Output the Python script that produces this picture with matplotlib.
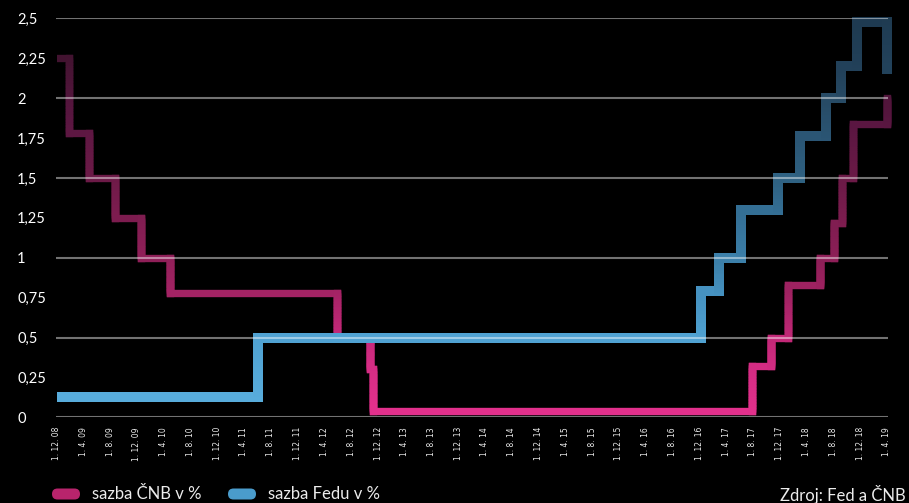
import numpy as np
import matplotlib
matplotlib.use('Agg')
import matplotlib.pyplot as plt
import matplotlib.dates as mdates
from matplotlib.collections import LineCollection
from matplotlib.colors import LinearSegmentedColormap, Normalize
from matplotlib.patches import FancyBboxPatch
from matplotlib.transforms import Bbox, TransformedBbox

# rates (date of change, new value)
cnb_dates = ['2008-12-01', '2009-01-24', '2009-04-25', '2009-08-21', '2009-12-19',
             '2010-05-02', '2012-05-29', '2012-10-24', '2012-11-08', '2017-07-28',
             '2017-10-22', '2018-01-07', '2018-05-31', '2018-08-04', '2018-09-10',
             '2018-10-30', '2019-04-01']
cnb_vals = [2.25, 1.78, 1.5, 1.25, 1.0, 0.78, 0.5, 0.3, 0.04, 0.32,
            0.5, 0.83, 1.0, 1.22, 1.5, 1.84, 2.0]

fed_dates = ['2008-12-01', '2011-06-03', '2016-12-06', '2017-03-01', '2017-06-06',
             '2017-11-21', '2018-03-02', '2018-07-01', '2018-09-07', '2018-11-17',
             '2019-04-01']
fed_vals = [0.13, 0.5, 0.79, 1.0, 1.3, 1.5, 1.76, 2.0, 2.2, 2.48, 2.18]

tick_dates = np.arange(np.datetime64('2008-12'), np.datetime64('2019-05'), 4)
y_ticks = np.arange(0, 2.51, 0.25)
grid_vals = [0, 0.5, 1.0, 1.5, 2.0, 2.5]

legend_labels = ['sazba ČNB v %', 'sazba Fedu v %']
source_text = 'Zdroj: Fed a ČNB'

txt_col = '#ececec'
plt.rcParams['font.family'] = ['Lato', 'DejaVu Sans']

cnb_cmap = LinearSegmentedColormap.from_list('cnb', [
    (0.0, '#e4318d'), (0.3 / 2.5, '#d52c84'), (0.5 / 2.5, '#c32878'),
    (0.8 / 2.5, '#a02262'), (1.0 / 2.5, '#8f1f58'), (1.5 / 2.5, '#6c1a47'),
    (1.85 / 2.5, '#5a1641'), (2.25 / 2.5, '#421330'), (1.0, '#38101f')])
fed_cmap = LinearSegmentedColormap.from_list('fed', [
    (0.0, '#5cb2e0'), (0.13 / 2.5, '#58acdb'), (0.5 / 2.5, '#50a2d2'),
    (0.8 / 2.5, '#4591c0'), (1.0 / 2.5, '#3c80aa'), (1.3 / 2.5, '#346f95'),
    (1.5 / 2.5, '#2f6283'), (1.76 / 2.5, '#2b5675'), (2.0 / 2.5, '#274b66'),
    (2.2 / 2.5, '#22415a'), (1.0, '#1e3a50')])


def step_segments(dates, vals):
    x = mdates.date2num(np.array(dates, dtype='datetime64[D]'))
    px, py = [x[0]], [vals[0]]
    for i in range(1, len(x)):
        px += [x[i], x[i]]
        py += [vals[i - 1], vals[i]]
    segs, mids = [], []
    for i in range(len(px) - 1):
        if py[i] == py[i + 1]:
            segs.append([(px[i], py[i]), (px[i + 1], py[i + 1])])
            mids.append(py[i])
        else:
            ys = np.linspace(py[i], py[i + 1], 30)
            for a, b in zip(ys[:-1], ys[1:]):
                segs.append([(px[i], a), (px[i], b)])
                mids.append((a + b) / 2)
    return segs, np.array(mids)


fig = plt.figure(figsize=(9.09, 5.03), dpi=100, facecolor='black')
ax = fig.add_axes([56 / 909, 85.7 / 503, 832 / 909, 398.9 / 503])
ax.set_facecolor('black')

x0 = mdates.date2num(np.datetime64('2008-12-01'))
x1 = mdates.date2num(np.datetime64('2019-04-01'))
ax.set_xlim(x0 - 3, x1 + 6)
ax.set_ylim(0, 2.5)

norm = Normalize(0, 2.5)
clip = TransformedBbox(Bbox([[x0, -1], [x1 + 60, 3]]), ax.transData)
for dates, vals, cmap, lw, z in [(cnb_dates, cnb_vals, cnb_cmap, 5.3, 2),
                                 (fed_dates, fed_vals, fed_cmap, 7.2, 3)]:
    segs, mids = step_segments(dates, vals)
    lc = LineCollection(segs, cmap=cmap, norm=norm, linewidths=lw,
                        capstyle='projecting', zorder=z)
    lc.set_array(mids)
    ax.add_collection(lc)
    lc.set_clip_box(clip)

for g in grid_vals:
    ax.axhline(g, color='white', alpha=0.45, lw=1.5, zorder=5)

ax.set_yticks(y_ticks)
ax.set_yticklabels([f'{v:g}'.replace('.', ',') for v in y_ticks],
                   fontsize=10.5, color='white', ha='left')
ax.set_xticks(mdates.date2num(tick_dates.astype('datetime64[D]')))
ax.set_xticklabels([f'1. {int(str(d)[5:7])}. {str(d)[2:4]}' for d in tick_dates],
                   rotation=90, fontsize=5.5, color=txt_col,
                   family='DejaVu Sans')
ax.tick_params(axis='y', length=0, pad=28)
ax.tick_params(axis='x', length=0, pad=7)
for s in ax.spines.values():
    s.set_visible(False)

# legend at the bottom
pill_cols = ['#b8246c', '#4a9ccc']
pill_x = [52, 228]
text_x = [92, 268]
for lab, c, px, tx in zip(legend_labels, pill_cols, pill_x, text_x):
    fig.add_artist(FancyBboxPatch((px / 100, 0.035), 0.28, 0.11,
                                  boxstyle='round,pad=0,rounding_size=0.055',
                                  transform=fig.dpi_scale_trans,
                                  facecolor=c, edgecolor='none'))
    fig.text(tx / 909, 9 / 503, lab, fontsize=12, color=txt_col, va='center')
fig.text(906 / 909, 9 / 503, source_text, fontsize=12, color=txt_col,
         va='center', ha='right')

fig.savefig('out.png', dpi=100, facecolor='black')
